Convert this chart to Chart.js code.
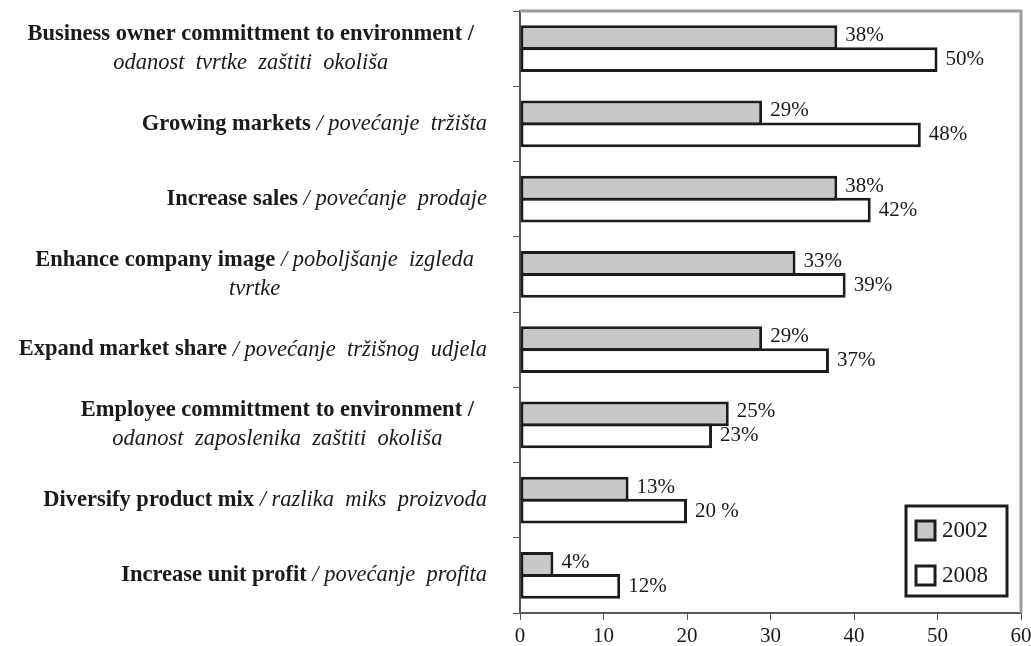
<!DOCTYPE html>
<html lang="hr">
<head>
  <meta charset="UTF-8">
  <title>Motivi za zaštitu okoliša 2002 / 2008</title>
  <script src="https://cdn.jsdelivr.net/npm/chart.js"></script>
  <style>
    body {
      margin: 0;
      background-color: #fff;
    }
    #chart-box {
      width: 1031px;
      height: 646px;
    }
  </style>
</head>
<body>

  <div id="chart-box">
    <canvas id="motivesChart" width="1031" height="646"></canvas>
  </div>

  <script>
    // categories: english (bold) and croatian (italic), '\n' marks a line break
    const labelsEn = [
      'Business owner committment to environment',
      'Growing markets',
      'Increase sales',
      'Enhance company image',
      'Expand market share',
      'Employee committment to environment',
      'Diversify product mix',
      'Increase unit profit'
    ];
    const labelsHr = [
      '\nodanost  tvrtke  zaštiti  okoliša',
      'povećanje  tržišta',
      'povećanje  prodaje',
      'poboljšanje  izgleda\ntvrtke',
      'povećanje  tržišnog  udjela',
      '\nodanost  zaposlenika  zaštiti  okoliša',
      'razlika  miks  proizvoda',
      'povećanje  profita'
    ];

    const years = ['2002', '2008'];
    const values2002 = [38, 29, 38, 33, 29, 25, 13, 4];
    const values2008 = [50, 48, 42, 39, 37, 23, 20, 12];

    const xTicks = [0, 10, 20, 30, 40, 50, 60];

    const labels2002 = values2002.map(v => v + '%');
    const labels2008 = values2008.map(v => v + '%');
    labels2008[6] = '20 %'; // printed like that in the original

    const SERIF = '"Liberation Serif", "Times New Roman", serif';
    const BAR_EDGE = '#1c1c1c';

    // split "En / Hr" into lines made of styled runs
    function buildLines(i) {
      let hr = labelsHr[i];
      let runs;
      if (hr.startsWith('\n')) {
        runs = [{ text: labelsEn[i] + ' /', font: 'bold 22.5px ' + SERIF },
                { text: hr, font: 'italic 22.5px ' + SERIF }];
      } else {
        runs = [{ text: labelsEn[i], font: 'bold 22.5px ' + SERIF },
                { text: ' / ' + hr, font: 'italic 22.5px ' + SERIF }];
      }
      const lines = [[]];
      runs.forEach(r => {
        r.text.split('\n').forEach((part, k) => {
          if (k > 0) lines.push([]);
          if (part) lines[lines.length - 1].push({ text: part, font: r.font });
        });
      });
      return lines.filter(l => l.length);
    }

    const categoryLabels = {
      id: 'categoryLabels',
      afterDraw(chart) {
        const ctx = chart.ctx;
        const yScale = chart.scales.y;
        ctx.save();
        ctx.fillStyle = '#1a1a1a';
        ctx.textBaseline = 'middle';
        ctx.textAlign = 'left';
        labelsEn.forEach((_, i) => {
          const lines = buildLines(i);
          const widths = lines.map(line => line.reduce((w, r) => {
            ctx.font = r.font;
            return w + ctx.measureText(r.text).width;
          }, 0));
          const yc = yScale.getPixelForValue(i);
          const lh = 29;
          const top = yc - (lines.length - 1) * lh / 2;
          const block = Math.max(...widths);
          lines.forEach((line, k) => {
            let x;
            if (lines.length === 1) {
              x = 487 - widths[k];
            } else {
              x = 474 - block + (block - widths[k]) / 2;
            }
            line.forEach(r => {
              ctx.font = r.font;
              ctx.fillText(r.text, x, top + k * lh);
              x += ctx.measureText(r.text).width;
            });
          });
        });
        ctx.restore();
      }
    };

    const valueLabels = {
      id: 'valueLabels',
      afterDatasetsDraw(chart) {
        const ctx = chart.ctx;
        ctx.save();
        ctx.font = '21px ' + SERIF;
        ctx.fillStyle = '#1a1a1a';
        ctx.textBaseline = 'middle';
        ctx.textAlign = 'left';
        [labels2002, labels2008].forEach((texts, d) => {
          chart.getDatasetMeta(d).data.forEach((bar, i) => {
            ctx.fillText(texts[i], bar.x + 8, bar.y - (d === 0 ? 2 : 0));
          });
        });
        ctx.restore();
      }
    };

    // gray frame on top and right of the plot area
    const plotFrame = {
      id: 'plotFrame',
      beforeDatasetsDraw(chart) {
        const { ctx, chartArea: a } = chart;
        ctx.save();
        ctx.strokeStyle = '#9c9c9c';
        ctx.lineWidth = 3;
        ctx.beginPath();
        ctx.moveTo(a.left, a.top);
        ctx.lineTo(a.right, a.top);
        ctx.lineTo(a.right, a.bottom);
        ctx.stroke();
        ctx.restore();
      }
    };

    const boxLegend = {
      id: 'boxLegend',
      afterDraw(chart) {
        const ctx = chart.ctx;
        ctx.save();
        ctx.strokeStyle = BAR_EDGE;
        ctx.lineWidth = 3;
        ctx.fillStyle = '#fff';
        ctx.fillRect(906, 506, 101, 90);
        ctx.strokeRect(906, 506, 101, 90);
        chart.data.datasets.forEach((ds, d) => {
          const y = 530 + d * 45;
          ctx.fillStyle = ds.backgroundColor;
          ctx.fillRect(916, y - 9, 19, 19);
          ctx.strokeRect(916, y - 9, 19, 19);
          ctx.fillStyle = '#1a1a1a';
          ctx.font = '23px ' + SERIF;
          ctx.textBaseline = 'middle';
          ctx.fillText(ds.label, 942, y + 1);
        });
        ctx.restore();
      }
    };

    const ctx = document.getElementById('motivesChart').getContext('2d');
    new Chart(ctx, {
      type: 'bar',
      data: {
        labels: labelsEn,
        datasets: [
          {
            label: years[0],
            data: values2002,
            backgroundColor: '#c8c8c8',
            borderColor: BAR_EDGE,
            borderWidth: 3,
            borderSkipped: false
          },
          {
            label: years[1],
            data: values2008,
            backgroundColor: '#ffffff',
            borderColor: BAR_EDGE,
            borderWidth: 3,
            borderSkipped: false
          }
        ]
      },
      options: {
        indexAxis: 'y',
        responsive: false,
        animation: false,
        datasets: {
          bar: { categoryPercentage: 0.585, barPercentage: 1.12 }
        },
        layout: {
          padding: { top: 11, right: 10, left: 0, bottom: 0 }
        },
        plugins: {
          legend: { display: false },
          tooltip: { enabled: false }
        },
        scales: {
          x: {
            min: 0,
            max: 60,
            afterBuildTicks: scale => {
              scale.ticks = xTicks.map(v => ({ value: v }));
            },
            afterFit: scale => {
              scale.height = 33;
              scale.paddingLeft = 0;
              scale.paddingRight = 0;
            },
            grid: {
              drawOnChartArea: false,
              drawTicks: true,
              tickLength: 7,
              color: '#555'
            },
            border: { color: '#5a5a5a', width: 2 },
            ticks: {
              padding: 4,
              color: '#1a1a1a',
              font: { family: SERIF, size: 21 }
            }
          },
          y: {
            afterFit: scale => {
              scale.width = 520;
              scale.paddingTop = 0;
              scale.paddingBottom = 0;
            },
            grid: {
              offset: true,
              drawOnChartArea: false,
              drawTicks: true,
              tickLength: 7,
              color: '#555'
            },
            border: { color: '#5a5a5a', width: 2 },
            ticks: { display: false }
          }
        }
      },
      plugins: [plotFrame, valueLabels, categoryLabels, boxLegend]
    });
  </script>
</body>
</html>
